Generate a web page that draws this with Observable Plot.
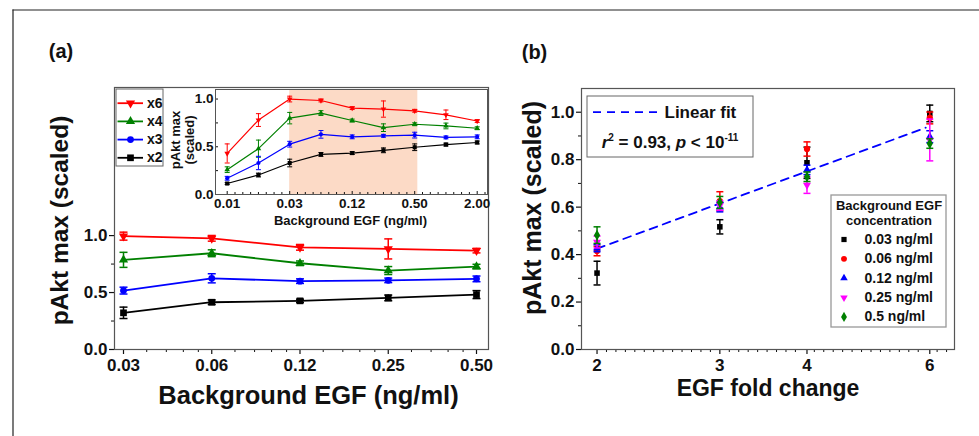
<!DOCTYPE html>
<html>
<head>
<meta charset="utf-8">
<script src="https://cdn.jsdelivr.net/npm/d3@7"></script>
<script src="https://cdn.jsdelivr.net/npm/@observablehq/plot@0.6"></script>
<style>
html, body { margin: 0; padding: 0; background: #fff; }
#fig { position: relative; width: 979px; height: 436px; overflow: hidden; background: #fff;
  font-family: "Liberation Sans", Arial, Helvetica, sans-serif; }
#fig svg { position: absolute; left: 0; top: 0; }
.htext { position: absolute; font-weight: bold; white-space: nowrap; color: #111; }
.htext sup { font-size: 10px; line-height: 0; vertical-align: 7px; }
</style>
</head>
<body>
<div id="fig"></div>
<script>
// ---------------- data ----------------
// Panel (a) main: background EGF concentrations (ng/ml)
const bgLabels = ["0.03", "0.06", "0.12", "0.25", "0.50"];
// pAkt max (scaled) for each EGF fold change
const x6 = [0.995, 0.976, 0.897, 0.883, 0.868];
const x6err = [0.035, 0.025, 0.025, 0.088, 0.02];
const x4 = [0.787, 0.845, 0.757, 0.693, 0.728];
const x4err = [0.066, 0.03, 0.02, 0.035, 0.02];
const x3 = [0.517, 0.625, 0.600, 0.607, 0.620];
const x3err = [0.03, 0.04, 0.02, 0.02, 0.025];
const x2 = [0.322, 0.415, 0.427, 0.453, 0.482];
const x2err = [0.05, 0.02, 0.015, 0.025, 0.035];

// Panel (a) inset: wider range of background EGF
const insetConc = ["0.01", "0.02", "0.03", "0.06", "0.12", "0.25", "0.50", "1.00", "2.00"];
const insetTickIdx = [0, 2, 4, 6, 8];
const in6 = [0.43, 0.78, 1.0, 0.985, 0.905, 0.895, 0.877, 0.835, 0.77];
const in6err = [0.10, 0.067, 0.03, 0.015, 0.015, 0.085, 0.015, 0.05, 0.015];
const in4 = [0.26, 0.48, 0.80, 0.853, 0.775, 0.70, 0.736, 0.718, 0.694];
const in4err = [0.03, 0.09, 0.06, 0.025, 0.015, 0.04, 0.015, 0.03, 0.015];
const in3 = [0.17, 0.33, 0.527, 0.63, 0.604, 0.615, 0.622, 0.598, 0.604];
const in3err = [0.02, 0.07, 0.03, 0.04, 0.02, 0.015, 0.03, 0.015, 0.02];
const in2 = [0.115, 0.204, 0.33, 0.42, 0.434, 0.463, 0.495, 0.523, 0.545];
const in2err = [0.01, 0.02, 0.04, 0.02, 0.015, 0.025, 0.035, 0.015, 0.015];
const shadeIdx = [2, 6.1]; // shaded background range (0.03 .. ~0.5 ng/ml)

// Panel (b): EGF fold change vs pAkt max, per background concentration
const folds = [2, 3, 4, 6];
const concLabels = ["0.03 ng/ml", "0.06 ng/ml", "0.12 ng/ml", "0.25 ng/ml", "0.5 ng/ml"];
const fitX = [2, 5.92];
const fitY = [0.425, 0.935];
const fitText = "Linear fit";

// ---------------- helpers ----------------
const FONT = "'Liberation Sans', Arial, Helvetica, sans-serif";
const W = 979, H = 436;
const RED = "#ff0000", GREEN = "#008000", BLUE = "#0000ff", BLACK = "#000000", MAGENTA = "#ff00ff";
const PEACH = "#fcdac6";
const FRAME = "#555";
const baseStyle = {fontFamily: FONT, fontWeight: "bold", background: "transparent", overflow: "visible", color: "#111"};

const capSym = {draw(ctx, size) { const w = Math.sqrt(size / Math.PI); ctx.moveTo(-w, 0); ctx.lineTo(w, 0); }};
const triDown = {draw(ctx, size) {
  const s3 = Math.sqrt(3);
  const y = -Math.sqrt(size / (s3 * 3));
  ctx.moveTo(0, -2 * y); ctx.lineTo(s3 * y, y); ctx.lineTo(-s3 * y, y); ctx.closePath();
}};

const rowsOf = (xs, v, e) => v.map((val, i) => ({x: xs[i], v: val, lo: val - e[i], hi: val + e[i]}));
const idx = n => d3.range(n);

function seriesMarks(rows, s, o) {
  const m = [];
  if (o.lw) m.push(Plot.line(rows, {x: "x", y: "v", stroke: s.color, strokeWidth: o.lw}));
  m.push(
    Plot.ruleX(rows, {x: "x", y1: "lo", y2: "hi", stroke: s.color, strokeWidth: o.ew}),
    Plot.dot(rows, {x: "x", y: "lo", symbol: capSym, r: o.cap, stroke: s.color, fill: "none", strokeWidth: o.ew}),
    Plot.dot(rows, {x: "x", y: "hi", symbol: capSym, r: o.cap, stroke: s.color, fill: "none", strokeWidth: o.ew}),
    Plot.dot(rows, {x: "x", y: "v", symbol: s.symbol, r: o.r * (s.rk || 1), fill: s.color, stroke: "none"})
  );
  return m;
}

const foldSeries = [
  {name: "x6", color: RED, symbol: triDown, rk: 0.95, v: x6, e: x6err, iv: in6, ie: in6err},
  {name: "x4", color: GREEN, symbol: "triangle", rk: 0.95, v: x4, e: x4err, iv: in4, ie: in4err},
  {name: "x3", color: BLUE, symbol: "circle", rk: 0.95, v: x3, e: x3err, iv: in3, ie: in3err},
  {name: "x2", color: BLACK, symbol: "square", rk: 1.05, v: x2, e: x2err, iv: in2, ie: in2err}
];

// ---------------- panel (a) main ----------------
const minorFrac = [1.2, 1.4, 1.6, 1.8].map(Math.log2);
const minorA = d3.range(4).flatMap(i => minorFrac.map(f => i + f));
const fig = document.getElementById("fig");

const plotA = Plot.plot({
  width: W, height: H,
  marginLeft: 114, marginRight: W - 488, marginTop: 87, marginBottom: H - 349,
  x: {domain: [-0.102, 4.136]},
  y: {domain: [0, 2.3]},
  style: baseStyle,
  marks: [
    Plot.axisY({ticks: [0, 0.5, 1], tickFormat: d3.format(".1f"), tickSize: 5, tickPadding: 2, fontSize: 17, label: null, strokeWidth: 1.2}),
    Plot.axisY({ticks: [0.25, 0.75], tickSize: 3, tickFormat: () => "", label: null}),
    Plot.axisX({ticks: idx(bgLabels.length), tickFormat: i => bgLabels[i], tickSize: 5, tickPadding: 4, fontSize: 17, label: null, strokeWidth: 1.2}),
    Plot.axisX({ticks: minorA, tickSize: 3, tickFormat: () => "", label: null}),
    ...foldSeries.flatMap(s => seriesMarks(rowsOf(idx(bgLabels.length), s.v, s.e), s, {lw: 1.8, ew: 1.5, cap: 4, r: 3.6})),
    Plot.frame({stroke: FRAME, strokeWidth: 1.2}),
    Plot.text(["pAkt max (scaled)"], {text: d => d, frameAnchor: "left", dx: -54, dy: 2, rotate: -90, textAnchor: "middle", lineAnchor: "middle", fontSize: 24.5}),
    Plot.text(["Background EGF (ng/ml)"], {text: d => d, frameAnchor: "bottom", dx: 7, dy: 46, textAnchor: "middle", lineAnchor: "middle", fontSize: 25.5})
  ]
});
fig.appendChild(plotA);

// ---------------- panel (a) inset ----------------
const minorInset = d3.range(0, 8.3, 0.25).filter(v => !(Number.isInteger(v) && v % 2 === 0));
const plotInset = Plot.plot({
  width: W, height: H,
  marginLeft: 215, marginRight: W - 487, marginTop: 89, marginBottom: H - 194,
  x: {domain: [-0.374, 8.33]},
  y: {domain: [0, 1.1]},
  style: baseStyle,
  marks: [
    Plot.frame({fill: "white", stroke: "none"}),
    Plot.rect([shadeIdx], {x1: d => d[0], x2: d => d[1], fill: PEACH}),
    ...foldSeries.flatMap(s => seriesMarks(rowsOf(idx(insetConc.length), s.iv, s.ie), s, {lw: 1.2, ew: 1, cap: 2.5, r: 2.2})),
    Plot.axisY({ticks: [0, 0.5, 1], tickFormat: d3.format(".1f"), tickSize: 0, tickPadding: 2, fontSize: 13.5, label: null}),
    Plot.axisY({ticks: [0, 0.25, 0.5, 0.75, 1], tickSize: -3, tickFormat: () => "", label: null}),
    Plot.axisX({ticks: insetTickIdx, tickFormat: i => insetConc[i], tickSize: 0, tickPadding: 4, fontSize: 13.5, label: null}),
    Plot.axisX({ticks: insetTickIdx, tickSize: -3, tickFormat: () => "", label: null}),
    Plot.axisX({ticks: minorInset, tickSize: -2, tickFormat: () => "", label: null}),
    Plot.frame({stroke: FRAME}),
    Plot.text(["pAkt max\n(scaled)"], {text: d => d, frameAnchor: "left", dx: -33, dy: -2, rotate: -90, textAnchor: "middle", lineAnchor: "middle", lineHeight: 1.05, fontSize: 13}),
    Plot.text(["Background EGF (ng/ml)"], {text: d => d, frameAnchor: "bottom", dx: -1, dy: 26, textAnchor: "middle", lineAnchor: "middle", fontSize: 13})
  ]
});
fig.appendChild(plotInset);

// ---------------- panel (b) ----------------
const concSeries = [
  {color: BLACK, symbol: "square", rk: 0.95},
  {color: RED, symbol: "circle", rk: 0.95},
  {color: BLUE, symbol: "triangle", rk: 0.9},
  {color: MAGENTA, symbol: triDown, rk: 0.9},
  {color: GREEN, symbol: "diamond", rk: 1.0}
];
const byFold = {2: [x2, x2err], 3: [x3, x3err], 4: [x4, x4err], 6: [x6, x6err]};
const minorB = d3.range(0, 42).map(k => 2 * Math.pow(1.5, k / 13))
  .filter(v => v < 6.5 && !folds.some(t => Math.abs(v / t - 1) < 0.012));

const plotB = Plot.plot({
  width: W, height: H,
  marginLeft: 581, marginRight: W - 954, marginTop: 88, marginBottom: H - 349,
  x: {type: "log", domain: [1.9, 6.51]},
  y: {domain: [0, 1.1]},
  style: baseStyle,
  marks: [
    Plot.axisY({ticks: [0, 0.2, 0.4, 0.6, 0.8, 1.0], tickFormat: d3.format(".1f"), tickSize: 5, tickPadding: 2, fontSize: 17, label: null, strokeWidth: 1.2}),
    Plot.axisY({ticks: [0.1, 0.3, 0.5, 0.7, 0.9], tickSize: 3, tickFormat: () => "", label: null}),
    Plot.axisX({ticks: folds, tickFormat: d3.format("d"), tickSize: 5, tickPadding: 4, fontSize: 17, label: null, strokeWidth: 1.2}),
    Plot.axisX({ticks: minorB, tickSize: 3, tickFormat: () => "", label: null}),
    Plot.line(fitX.map((x, i) => ({x, y: fitY[i]})), {x: "x", y: "y", stroke: BLUE, strokeWidth: 1.8, strokeDasharray: "8,6"}),
    ...concSeries.flatMap((s, ci) => seriesMarks(
      folds.map(f => ({x: f, v: byFold[f][0][ci], lo: byFold[f][0][ci] - byFold[f][1][ci], hi: byFold[f][0][ci] + byFold[f][1][ci]})),
      s, {lw: 0, ew: 1.5, cap: 3.5, r: 3.3})),
    Plot.frame({stroke: FRAME, strokeWidth: 1.2}),
    Plot.text(["pAkt max (scaled)"], {text: d => d, frameAnchor: "left", dx: -49, dy: -11, rotate: -90, textAnchor: "middle", lineAnchor: "middle", fontSize: 25}),
    Plot.text(["EGF fold change"], {text: d => d, frameAnchor: "bottom", dx: 0, dy: 39, textAnchor: "middle", lineAnchor: "middle", fontSize: 23})
  ]
});
fig.appendChild(plotB);

// ---------------- overlay: borders, panel labels, legends ----------------
const legA = foldSeries.map((s, i) => ({...s, y: 102.7 + i * 18.2}));
const legB = concSeries.map((s, i) => ({...s, label: concLabels[i], y: 239 + i * 19.35}));

const overlay = Plot.plot({
  width: W, height: H, margin: 0,
  x: {type: "identity", axis: null}, y: {type: "identity", axis: null},
  style: baseStyle,
  marks: [
    Plot.ruleY([9.5], {y: d => d, x1: 12.5, x2: W, stroke: "#222", strokeWidth: 1.2}),
    Plot.ruleX([12.5], {x: d => d, y1: 9.5, y2: H, stroke: "#222", strokeWidth: 1.2}),
    Plot.text(["(a)"], {text: d => d, x: 60.5, y: 51.5, fontSize: 20, textAnchor: "middle", lineAnchor: "middle"}),
    Plot.text(["(b)"], {text: d => d, x: 534, y: 52.5, fontSize: 20, textAnchor: "middle", lineAnchor: "middle"}),
    // legend (a)
    Plot.rect([0], {x1: 116, x2: 163, y1: 89, y2: 166, fill: "white", stroke: "#666"}),
    Plot.ruleY(legA, {y: "y", x1: 117.5, x2: 143, stroke: d => d.color, strokeWidth: 1.8}),
    ...legA.map(s => Plot.dot([s], {x: 130, y: "y", symbol: s.symbol, r: 3.6 * s.rk, fill: s.color, stroke: "none"})),
    Plot.text(legA, {x: 146.5, y: "y", text: "name", textAnchor: "start", lineAnchor: "middle", fontSize: 14}),
    // legend (b) linear fit
    Plot.rect([0], {x1: 587, x2: 753, y1: 96, y2: 157, fill: "white", stroke: "#666"}),
    Plot.ruleY([111.7], {y: d => d, x1: 593, x2: 657, stroke: BLUE, strokeWidth: 1.8, strokeDasharray: "8,6"}),
    Plot.text([fitText], {text: d => d, x: 664, y: 111.7, textAnchor: "start", lineAnchor: "middle", fontSize: 17}),
    // legend (b) concentrations
    Plot.rect([0], {x1: 831, x2: 946, y1: 195, y2: 327, fill: "white", stroke: "#999", strokeWidth: 1.3}),
    Plot.text(["Background EGF\nconcentration"], {text: d => d, x: 888.5, y: 212.5, textAnchor: "middle", lineAnchor: "middle", lineHeight: 1.13, fontSize: 13}),
    ...legB.map(s => Plot.dot([s], {x: 843.5, y: "y", symbol: s.symbol, r: 3.1 * s.rk, fill: s.color, stroke: "none"})),
    Plot.text(legB, {x: 864, y: "y", text: "label", textAnchor: "start", lineAnchor: "middle", fontSize: 14})
  ]
});
fig.appendChild(overlay);

// statistic line (mixed italics / superscripts) as HTML text
const stat = document.createElement("div");
stat.className = "htext";
stat.style.cssText = "left:587px;width:166px;top:132px;text-align:center;font-size:17px;line-height:22px;";
stat.innerHTML = "<i>r</i><sup>2</sup> = 0.93, <i>p</i> &lt; 10<sup>-11</sup>";
fig.appendChild(stat);
</script>
</body>
</html>
